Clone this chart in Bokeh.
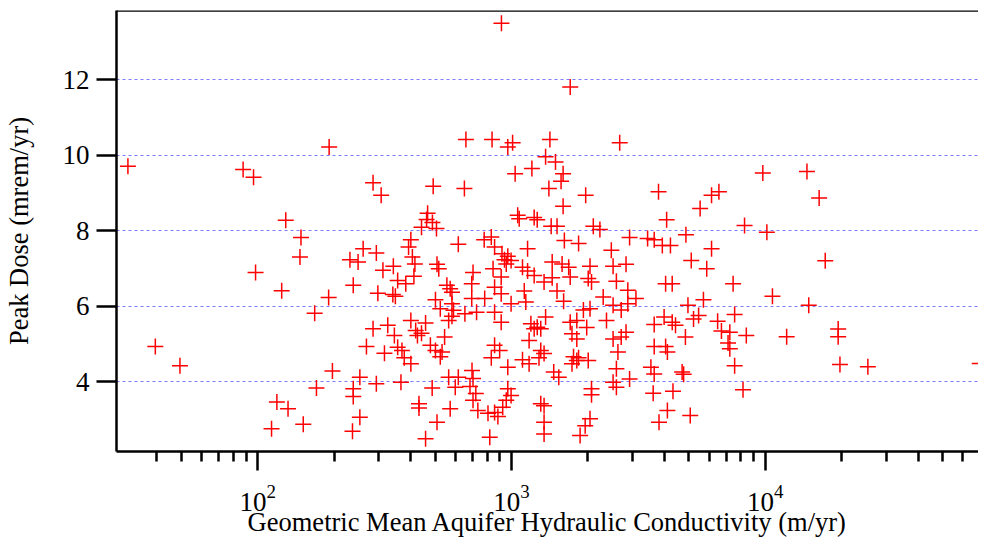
import numpy as np
from bokeh.plotting import figure
from bokeh.models import (Range1d, FixedTicker, LogTickFormatter, Span,
                          ColumnDataSource)
from bokeh.embed import file_html
from bokeh.resources import INLINE

# log10 of geometric mean aquifer hydraulic conductivity (m/yr)
log10_k = [
    1.488, 1.596, 1.693, 1.942, 1.983, 1.991, 2.110, 2.170, 2.166, 2.094,
    2.224, 2.231, 2.075, 2.119, 2.054, 2.179, 2.281, 2.279, 2.294,
    2.820, 2.454, 2.486, 2.691, 2.814, 2.669, 2.665, 2.688, 2.645, 2.704,
    2.790, 2.603, 2.594, 2.415, 2.467, 2.363, 2.395, 2.609, 2.619, 2.706,
    2.713, 2.493, 2.534, 2.848,
    2.551, 2.583, 2.615, 2.376, 2.473, 2.532, 2.542, 2.745, 2.765, 2.758,
    2.843, 2.843, 2.700, 2.719, 2.765, 2.771, 2.765, 2.816, 2.752, 2.862,
    2.603, 2.661, 2.622, 2.645, 2.629, 2.454, 2.512, 2.538, 2.428, 2.499,
    2.551, 2.568, 2.577, 2.603, 2.680, 2.700, 2.726, 2.719, 2.736, 2.402,
    2.376, 2.376, 2.467, 2.564, 2.687, 2.752, 2.790, 2.778, 2.402, 2.373,
    2.635, 2.635, 2.758, 2.706, 2.661, 2.844, 2.848, 2.836, 2.859, 2.848,
    2.867,
    2.923, 2.985, 3.004, 3.151, 3.426, 3.134, 3.173, 3.014, 3.080, 3.203,
    3.195, 3.147, 3.292, 3.203, 3.024, 3.030, 3.089, 3.101, 3.156, 3.179,
    3.322, 3.348, 3.465, 2.892, 2.920, 2.933, 2.962, 2.985, 2.972, 2.998,
    3.063, 3.208, 3.264, 3.393, 3.160, 3.199, 3.225, 3.309, 3.400, 3.451,
    2.927, 3.043, 3.063, 2.979,
    2.959, 2.933, 2.959, 3.089, 3.128, 3.160, 3.231, 3.302, 3.315, 3.413,
    3.458, 3.050, 3.179, 2.894, 2.933, 2.998, 3.056, 3.205, 3.283, 3.309,
    3.361, 3.400, 3.432, 3.458, 2.959, 3.134, 3.076, 3.101, 3.115, 3.089,
    3.231, 3.257, 3.296, 3.374, 3.238, 3.257, 3.400, 3.432, 3.451, 3.069,
    2.933, 2.953, 2.920, 3.115, 3.128, 3.108, 3.043, 3.069, 2.985, 3.244,
    3.264, 3.257, 3.238, 3.302, 3.419, 3.413, 3.166, 3.186, 3.465, 3.400,
    3.413, 3.315, 3.315, 2.985, 2.998, 2.979, 2.965, 2.933, 2.946, 2.907,
    3.115, 3.128, 3.128, 3.128, 3.309, 3.290, 3.270, 2.914,
    3.990, 3.579, 3.788, 3.817, 3.743, 3.611, 3.918, 4.006, 3.687, 3.536,
    3.562, 3.594, 3.626, 3.788, 3.708, 3.769,
    3.607, 3.633, 3.873, 4.028, 3.490, 3.695, 3.756, 3.879, 3.562, 3.601,
    3.633, 3.646, 3.685, 3.717, 3.737, 3.812, 3.827, 3.860, 3.925, 4.084,
    3.853, 3.860, 3.562, 3.607, 3.614, 3.549, 3.562, 3.672, 3.678, 3.879,
    3.558, 3.636, 3.912, 3.614, 3.581, 3.704,
    4.164, 4.212, 4.236, 4.171, 4.287, 4.287, 4.294, 4.404, 4.845,
    2.960, 3.231,
]

# peak dose (mrem/yr)
peak_dose = [
    9.71, 4.93, 4.42, 9.62, 9.42, 6.89, 8.28, 7.82, 7.30, 6.41,
    5.81, 3.83, 3.46, 3.28, 2.75, 2.87, 10.22, 6.23, 4.28,
    10.42, 9.27, 8.94, 9.18, 9.12, 8.46, 8.30, 8.22, 8.09, 8.06,
    7.64, 7.76, 7.57, 7.52, 7.41, 7.23, 7.17, 7.30, 7.12, 7.11,
    6.99, 6.95, 7.06, 6.89,
    6.68, 6.59, 6.79, 6.55, 6.34, 6.31, 6.26, 6.55, 6.37, 6.46,
    6.59, 6.20, 6.17, 5.93, 6.06, 5.89, 5.73, 5.80, 5.62, 5.84,
    5.62, 5.55, 5.35, 5.28, 5.22, 5.40, 5.49, 5.22, 4.93, 4.75,
    4.91, 4.82, 4.63, 4.47, 4.96, 4.82, 4.78, 4.66, 5.18, 4.11,
    3.81, 3.60, 3.94, 3.98, 3.83, 4.11, 4.11, 3.85, 3.05, 2.68,
    3.41, 3.30, 3.28, 2.92, 2.48, 4.29, 4.08, 3.87, 3.68, 3.50,
    3.23,
    10.42, 10.22, 10.33, 10.42, 10.33, 9.96, 9.82, 9.51, 9.65, 9.51,
    9.31, 9.12, 8.94, 8.65, 8.41, 8.32, 8.35, 8.29, 8.12, 8.12,
    8.12, 8.03, 7.82, 7.76, 7.83, 7.57, 7.39, 7.32, 7.23, 7.21,
    7.52, 7.74, 7.66, 7.48, 7.17, 7.12, 7.03, 7.06, 7.06, 7.11,
    6.99, 7.03, 6.93, 7.12,
    6.77, 6.50, 6.33, 6.81, 6.64, 6.75, 6.77, 6.73, 6.64, 6.66,
    6.42, 6.40, 6.40, 6.20, 5.84, 6.06, 6.11, 6.13, 5.90, 5.93,
    6.24, 6.02, 5.90, 6.06, 5.57, 5.71, 5.53, 5.44, 5.40, 5.40,
    5.57, 5.62, 5.43, 5.62, 5.27, 5.13, 5.13, 5.18, 5.31, 5.09,
    4.96, 4.82, 4.63, 4.82, 4.74, 4.63, 4.58, 4.47, 4.38, 4.66,
    4.63, 4.56, 4.47, 4.56, 4.78, 4.34, 4.25, 4.11, 4.07, 3.98,
    3.85, 3.81, 3.65, 3.81, 3.63, 3.50, 3.32, 3.18, 3.07, 3.16,
    3.41, 3.36, 2.92, 2.61, 3.01, 2.83, 2.57, 2.52,
    9.53, 9.03, 8.94, 9.03, 8.59, 8.29, 8.14, 7.96, 7.89, 7.79,
    7.76, 7.61, 7.61, 7.52, 7.21, 6.99,
    6.59, 6.59, 6.59, 6.26, 6.20, 6.02, 6.17, 5.78, 5.51, 5.71,
    5.57, 5.49, 5.18, 5.66, 5.75, 5.60, 5.34, 5.31, 5.22, 5.19,
    5.02, 4.87, 4.93, 4.93, 4.78, 4.38, 4.20, 4.25, 4.19, 4.42,
    3.69, 3.74, 3.78, 3.23, 2.92, 3.10,
    9.57, 8.87, 7.20, 6.02, 5.39, 5.19, 4.45, 4.39, 4.48,
    13.50, 11.81,
]

x_major_ticks = [100, 1000, 10000]
x_minor_ticks = [40, 50, 60, 70, 80, 90,
                 200, 300, 400, 500, 600, 700, 800, 900,
                 2000, 3000, 4000, 5000, 6000, 7000, 8000, 9000,
                 20000, 30000, 40000, 50000, 60000, 70000]
y_ticks = [4, 6, 8, 10, 12]
y_start, y_end = 2.144, 13.84

FONT = "Liberation Serif"

src = ColumnDataSource(data=dict(k=10 ** np.array(log10_k), dose=np.array(peak_dose)))

p = figure(width=978, height=540, x_axis_type="log",
           x_range=Range1d(10 ** 1.443, 10 ** 4.84),
           y_range=Range1d(y_start, y_end),
           output_backend="svg", toolbar_location=None,
           min_border_left=109, min_border_top=10, min_border_right=0,
           min_border_bottom=89)

p.outline_line_color = None
p.background_fill_color = "white"
p.border_fill_color = "white"

p.scatter(x="k", y="dose", source=src, marker="cross", size=16,
          line_color="#ff0000", line_width=1.5)

xa = p.xaxis[0]
xa.ticker = FixedTicker(ticks=x_major_ticks, minor_ticks=x_minor_ticks)
xa.formatter = LogTickFormatter()
xa.axis_label = "Geometric Mean Aquifer Hydraulic Conductivity (m/yr)"

ya = p.yaxis[0]
ya.ticker = FixedTicker(ticks=y_ticks)
ya.axis_label = "Peak Dose (mrem/yr)"

for ax in (xa, ya):
    ax.axis_line_width = 2.5
    ax.axis_line_color = "black"
    ax.major_tick_line_width = 2.5
    ax.major_tick_line_color = "black"
    ax.minor_tick_line_width = 2.5
    ax.major_tick_in = 0
    ax.minor_tick_in = 0
    ax.major_label_text_font = FONT
    ax.major_label_text_font_size = "27px"
    ax.major_label_text_color = "black"
    ax.axis_label_text_font = FONT
    ax.axis_label_text_font_size = "26.5px"
    ax.axis_label_text_font_style = "normal"
    ax.axis_label_text_color = "black"

xa.minor_tick_line_color = "black"
ya.minor_tick_line_color = None
xa.major_tick_out = 19
xa.minor_tick_out = 10
xa.major_label_standoff = 14
xa.axis_label_standoff = -7
ya.major_tick_out = 20
ya.major_label_standoff = 7
ya.axis_label_standoff = 26

# top frame line only (no right border in the reference)
p.add_layout(Span(location=y_end, dimension="width", line_color="black",
                  line_width=2.5))

p.xgrid.visible = False
p.ygrid.grid_line_color = "#7b7bff"
p.ygrid.grid_line_dash = "3 3"
p.ygrid.grid_line_width = 1

open("out.html", "w").write(file_html(p, INLINE))
